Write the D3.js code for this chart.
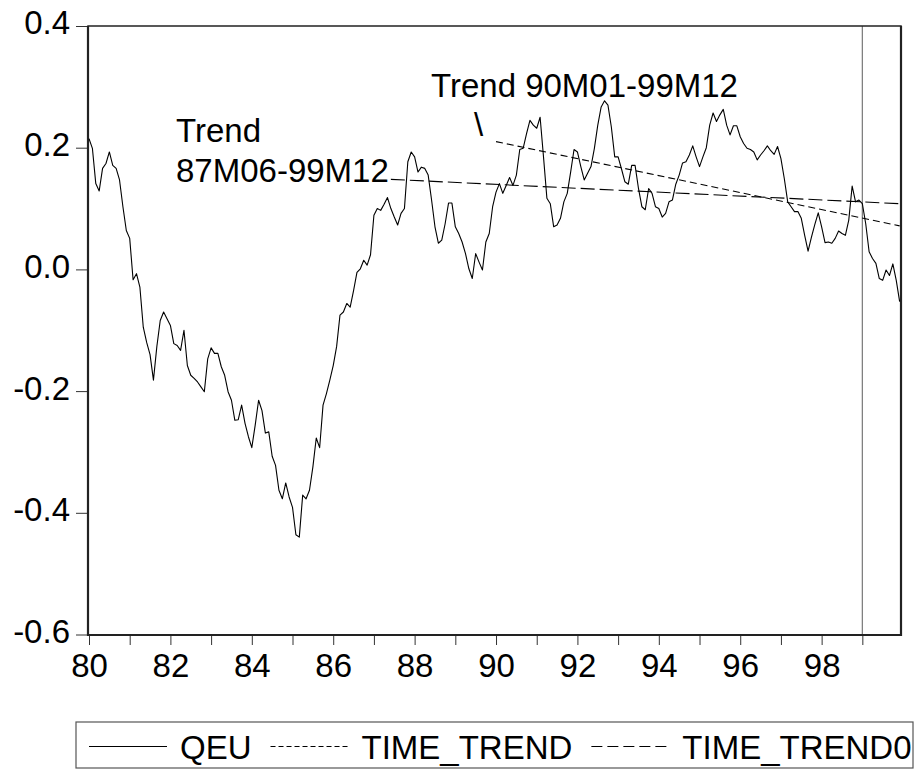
<!DOCTYPE html>
<html>
<head>
<meta charset="utf-8">
<script src="https://cdn.jsdelivr.net/npm/d3@7"></script>
<style>
  body { margin: 0; background: #fff; }
  svg text { font-family: "Liberation Sans", Arial, sans-serif; fill: #000; }
</style>
</head>
<body>
<div id="chart"></div>
<script>
// QEU, monthly 1980M01 - 1999M12
var qeu = [
  0.215, 0.199, 0.141, 0.129, 0.166, 0.174, 0.193, 0.171, 0.166, 0.147,
  0.103, 0.064, 0.051, -0.017, -0.007, -0.029, -0.095, -0.120, -0.140, -0.182,
  -0.127, -0.084, -0.070, -0.081, -0.092, -0.122, -0.125, -0.133, -0.100, -0.158,
  -0.174, -0.179, -0.185, -0.193, -0.201, -0.147, -0.129, -0.138, -0.138, -0.160,
  -0.174, -0.201, -0.215, -0.248, -0.247, -0.223, -0.253, -0.275, -0.293, -0.256,
  -0.215, -0.232, -0.269, -0.267, -0.307, -0.322, -0.363, -0.377, -0.351, -0.374,
  -0.391, -0.436, -0.440, -0.371, -0.377, -0.363, -0.325, -0.277, -0.293, -0.223,
  -0.204, -0.182, -0.158, -0.127, -0.075, -0.070, -0.056, -0.062, -0.035, -0.005,
  0.001, 0.015, 0.007, 0.024, 0.089, 0.100, 0.097, 0.107, 0.118, 0.100,
  0.086, 0.073, 0.092, 0.100, 0.177, 0.193, 0.185, 0.160, 0.168, 0.166,
  0.155, 0.114, 0.070, 0.043, 0.048, 0.075, 0.109, 0.109, 0.070, 0.059,
  0.045, 0.026, 0.001, -0.015, 0.026, 0.012, -0.001, 0.045, 0.059, 0.103,
  0.127, 0.141, 0.125, 0.138, 0.151, 0.138, 0.155, 0.197, 0.199, 0.223,
  0.245, 0.237, 0.232, 0.250, 0.185, 0.117, 0.108, 0.070, 0.073, 0.084,
  0.111, 0.125, 0.160, 0.197, 0.193, 0.169, 0.147, 0.158, 0.169, 0.199,
  0.237, 0.267, 0.277, 0.270, 0.234, 0.185, 0.185, 0.165, 0.144, 0.140,
  0.171, 0.171, 0.133, 0.103, 0.098, 0.133, 0.125, 0.103, 0.100, 0.086,
  0.092, 0.111, 0.114, 0.140, 0.155, 0.175, 0.177, 0.188, 0.203, 0.185,
  0.169, 0.185, 0.200, 0.237, 0.257, 0.243, 0.254, 0.263, 0.237, 0.221,
  0.236, 0.236, 0.218, 0.207, 0.199, 0.197, 0.193, 0.180, 0.188, 0.195,
  0.203, 0.195, 0.189, 0.202, 0.182, 0.149, 0.111, 0.103, 0.095, 0.095,
  0.084, 0.056, 0.030, 0.053, 0.074, 0.093, 0.070, 0.044, 0.045, 0.043,
  0.051, 0.063, 0.059, 0.056, 0.081, 0.137, 0.111, 0.114, 0.108, 0.075,
  0.029, 0.018, 0.010, -0.015, -0.018, -0.001, -0.010, 0.009, -0.018, -0.053
];
var startYear = 1980;

// linear trends: [month index, value] at start and end of the fit window
var timeTrend  = [[120, 0.210], [239, 0.0715]];   // 90M01-99M12
var timeTrend0 = [[89, 0.148], [239, 0.108]];     // 87M06-99M12

var yTicks = [-0.6, -0.4, -0.2, 0.0, 0.2, 0.4];
var xTickYears = d3.range(1980, 2000);
var xLabelYears = [1980, 1982, 1984, 1986, 1988, 1990, 1992, 1994, 1996, 1998];
var breakYear = 1999;
var legendNames = ["QEU", "TIME_TREND", "TIME_TREND0"];

var width = 918, height = 771;
var fs = 33;

var svg = d3.select("#chart").append("svg")
    .attr("width", width)
    .attr("height", height);

var x = d3.scaleLinear().domain([1980, 1999.95]).range([89, 901]);
var y = d3.scaleLinear().domain([-0.6, 0.4]).range([634.5, 26]);

function monthToYear(i) { return startYear + i / 12; }

// axes
var yAxis = d3.axisLeft(y)
    .tickValues(yTicks)
    .tickSize(12)
    .tickPadding(6)
    .tickFormat(function (d) { return d.toFixed(1); });

var gy = svg.append("g")
    .attr("transform", "translate(88,0)")
    .call(yAxis);
gy.select(".domain").remove();
gy.selectAll(".tick line").attr("stroke", "#333");
gy.selectAll(".tick text")
    .style("font-size", fs + "px")
    .attr("dy", "0.24em");

var xAxis = d3.axisBottom(x)
    .tickValues(xTickYears)
    .tickSize(10)
    .tickPadding(9)
    .tickFormat(function (d) {
        return xLabelYears.indexOf(d) >= 0 ? String(d).slice(2) : "";
    });

var gx = svg.append("g")
    .attr("transform", "translate(0,635)")
    .call(xAxis);
gx.select(".domain").remove();
gx.selectAll(".tick line").attr("stroke", "#333");
gx.selectAll(".tick text")
    .style("font-size", fs + "px");

// break line at 99M01
svg.append("line")
    .attr("x1", x(breakYear)).attr("x2", x(breakYear))
    .attr("y1", 26).attr("y2", 635)
    .attr("stroke", "#777")
    .attr("stroke-width", 1.2);

// frame
svg.append("rect")
    .attr("x", 88).attr("y", 26)
    .attr("width", 901 - 88).attr("height", 635 - 26)
    .attr("fill", "none")
    .attr("stroke", "#222")
    .attr("stroke-width", 1.5);
svg.append("path")
    .attr("d", "M88,26V635H901V26")
    .attr("fill", "none")
    .attr("stroke", "#222")
    .attr("stroke-width", 2.2);

// series
var line = d3.line()
    .x(function (d, i) { return x(monthToYear(i)); })
    .y(function (d) { return y(d); });

var trendLine = d3.line()
    .x(function (d) { return x(monthToYear(d[0])); })
    .y(function (d) { return y(d[1]); });

svg.append("path")
    .datum(timeTrend0)
    .attr("d", trendLine)
    .attr("fill", "none")
    .attr("stroke", "#000")
    .attr("stroke-width", 1.1)
    .attr("stroke-dasharray", "14,5");

svg.append("path")
    .datum(timeTrend)
    .attr("d", trendLine)
    .attr("fill", "none")
    .attr("stroke", "#000")
    .attr("stroke-width", 1.1)
    .attr("stroke-dasharray", "7,4");

svg.append("path")
    .datum(qeu)
    .attr("d", line)
    .attr("fill", "none")
    .attr("stroke", "#000")
    .attr("stroke-width", 1.1)
    .attr("stroke-linejoin", "round");

// annotations
svg.append("text").attr("x", 176).attr("y", 142)
    .style("font-size", fs + "px").text("Trend");
svg.append("text").attr("x", 176).attr("y", 182)
    .style("font-size", fs + "px").text("87M06-99M12");
svg.append("text").attr("x", 431).attr("y", 97)
    .style("font-size", fs + "px").text("Trend 90M01-99M12");
svg.append("text").attr("x", 474).attr("y", 136)
    .style("font-size", fs + "px").text("\\");

// legend
var legend = svg.append("g");
legend.append("rect")
    .attr("x", 76).attr("y", 722)
    .attr("width", 913 - 76).attr("height", 46)
    .attr("fill", "#fff")
    .attr("stroke", "#555")
    .attr("stroke-width", 1.2);

var dashes = [null, "5,3", "11,5"];
var lx = 89, ly = 746.5;
legendNames.forEach(function (name, k) {
    var l = legend.append("line")
        .attr("x1", lx).attr("x2", lx + 78)
        .attr("y1", ly).attr("y2", ly)
        .attr("stroke", "#000")
        .attr("stroke-width", 1.1);
    if (dashes[k]) l.attr("stroke-dasharray", dashes[k]);
    var t = legend.append("text")
        .attr("x", lx + 91).attr("y", ly + 12)
        .style("font-size", fs + "px")
        .text(name);
    lx = lx + 91 + t.node().getComputedTextLength() + 19;
});
</script>
</body>
</html>
